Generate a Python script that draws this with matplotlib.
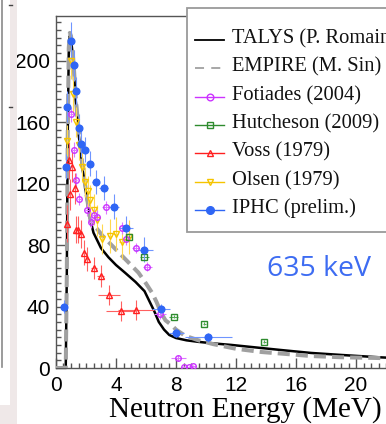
import matplotlib
matplotlib.use('Agg')
import matplotlib.pyplot as plt
from matplotlib.patches import Rectangle
from matplotlib.lines import Line2D
from matplotlib.ticker import MultipleLocator

W, H, DPI = 386, 424, 100

# ---------------- data ----------------
talys_x = [0, 0.65, 0.72, 0.78, 0.85, 0.92, 1.0, 1.1, 1.2, 1.3, 1.5, 1.75, 2.0, 2.2, 2.5, 3.0, 3.5, 4.0,
           4.6, 5.3, 5.9, 6.2, 6.55, 6.85, 7.2, 7.55, 8.0, 8.7, 9.5, 10.5, 11.7, 13.7, 15, 17, 19, 21.5, 24]
talys_y = [0, 0, 60, 150, 205, 216, 214, 205, 192, 176, 153, 131, 114, 100, 88, 78, 72, 67,
           62, 56, 50, 44, 37, 30, 25, 21.5, 19.5, 18, 17, 16, 15, 13, 11.7, 9.8, 8.5, 7, 5.8]

empire_x = [0, 0.65, 0.72, 0.78, 0.85, 0.92, 1.0, 1.1, 1.2, 1.3, 1.5, 1.75, 2.0, 2.3, 2.7, 3.1, 3.5, 4.0,
            4.5, 4.9, 5.5, 6.0, 6.4, 6.7, 7.0, 7.3, 7.7, 8.0, 8.6, 9.5, 10.5, 12, 13.7, 15.5, 17, 19, 21.5, 24]
empire_y = [0, 0, 60, 150, 208, 218, 216, 207, 194, 178, 155, 133, 115, 96, 91, 86, 82, 77,
            72, 68, 62, 55, 49, 43, 36, 31, 28, 25, 21, 18, 15.5, 12.5, 10.4, 9, 7.8, 7, 6.5, 5.5]

fot_x = [1.03, 1.2, 1.31, 1.55, 2.05, 2.33, 2.53, 2.76, 3.3, 4.42, 4.64, 5.31, 6.09, 6.9, 8.16, 8.53, 8.85, 9.15]
fot_y = [165, 142, 122, 110, 103, 95, 99.5, 98.5, 104.5, 91, 84, 78, 66, 35, 6.5, 0.5, 0.5, 1]
fot_yerr = [5, 5, 5, 4, 4, 4, 4, 4, 4, 4, 4, 3, 3, 3, 2, 1, 1, 1]
fot_xerr = [0.1, 0.1, 0.1, 0.1, 0.15, 0.15, 0.15, 0.15, 0.2, 0.2, 0.2, 0.25, 0.3, 0.4, 0.5, 0.2, 0.2, 0.2]

hut_x = [4.87, 5.87, 7.85, 9.87, 13.87]
hut_y = [85.5, 72, 33.4, 28.8, 17.1]
hut_yerr = [1, 1, 1, 1, 1]
hut_xerr = [0.2, 0.3, 0.3, 0.1, 0.1]

voss_x = [0.76, 0.87, 0.91, 1.09, 1.24, 1.36, 1.47, 1.64, 1.87, 2.09, 2.53, 2.98, 3.53, 4.31, 5.35]
voss_y = [94, 135, 113, 131, 117, 90, 90, 87, 75, 71, 65, 60, 47.5, 37, 37.7]
voss_yerr = [12, 12, 10, 10, 10, 9, 9, 9, 8, 8, 7, 7, 6.5, 6.5, 6.5]
voss_xerr = [0.05, 0.05, 0.05, 0.05, 0.05, 0.05, 0.1, 0.1, 0.1, 0.1, 0.2, 0.25, 0.75, 0.95, 1.2]

ols_x = [0.76, 1.0, 1.13, 1.3, 1.5, 1.76, 1.93, 2.1, 2.25, 2.5, 2.75, 3.09, 3.6, 3.98, 4.42, 4.87]
ols_y = [148, 200, 178, 160, 145, 131, 121, 115, 109, 103, 96, 84, 86, 87, 82, 85]
ols_yerr = [10, 12, 12, 10, 10, 10, 10, 10, 10, 10, 10, 10, 11, 11, 11, 11]
ols_xerr = [0.05, 0.05, 0.05, 0.05, 0.05, 0.1, 0.1, 0.1, 0.1, 0.1, 0.1, 0.1, 0.15, 0.15, 0.2, 0.2]

iphc_x = [0.53, 0.64, 0.71, 1.02, 1.22, 1.35, 1.53, 1.66, 1.93, 2.25, 2.64, 3.18, 3.85, 4.66, 5.87, 7.0, 8.02, 10.15]
iphc_y = [40, 131, 170, 213, 197, 180, 156, 146, 142, 133, 121, 117, 105, 91, 77, 38.5, 23, 20]
iphc_yerr = [4, 8, 10, 12, 10, 9, 9, 9, 8, 8, 8, 8, 8, 8, 8, 3, 3, 3]
iphc_xerr = [0.05, 0.05, 0.05, 0.08, 0.1, 0.1, 0.12, 0.15, 0.18, 0.2, 0.25, 0.3, 0.35, 0.45, 0.6, 0.6, 0.5, 1.55]

legend_labels = ['TALYS (P. Romain)', 'EMPIRE (M. Sin)', 'Fotiades (2004)', 'Hutcheson (2009)',
                 'Voss (1979)', 'Olsen (1979)', 'IPHC (prelim.)']
x_ticks = [0, 4, 8, 12, 16, 20]
y_ticks = [0, 40, 80, 120, 160, 200]
annot = '635 keV'
xlabel = 'Neutron Energy (MeV)'

# ---------------- styles ----------------
C_FOT = '#cc33ff'
C_HUT = '#2e8b2e'
C_VOSS = '#ff2020'
C_OLS = '#f5c400'
C_IPHC = '#2f66f5'

fig = plt.figure(figsize=(W / DPI, H / DPI), dpi=DPI)
fig.patch.set_facecolor('white')

ax = fig.add_axes([56 / W, (H - 368) / H, 360 / W, 352 / H])
ax.set_xlim(0, 24)
ax.set_ylim(0, 229)

ax.plot(talys_x, talys_y, color='black', lw=1.8, zorder=3)
ax.plot(empire_x, empire_y, color='#a0a0a0', lw=2.9, dashes=(3, 1.5), zorder=4)

def series(x, y, xe, ye, color, ecolor, marker, filled, ms):
    ax.errorbar(x, y, xerr=xe, yerr=ye, fmt=marker, ms=ms, mew=1.0,
                mfc=(color if filled else 'none'), mec=color, ecolor=ecolor,
                elinewidth=0.8, capsize=0, zorder=5)

series(voss_x, voss_y, voss_xerr, voss_yerr, C_VOSS, '#ff6060', '^', False, 4.3)
series(ols_x, ols_y, ols_xerr, ols_yerr, C_OLS, '#ffd84d', 'v', False, 4.3)
series(fot_x, fot_y, fot_xerr, fot_yerr, C_FOT, '#dd77ff', 'o', False, 4.0)
series(hut_x, hut_y, hut_xerr, hut_yerr, C_HUT, '#55aa55', 's', False, 4.0)
series(iphc_x, iphc_y, iphc_xerr, iphc_yerr, C_IPHC, '#6f95ff', 'o', True, 4.8)

ax.xaxis.set_major_locator(MultipleLocator(4))
ax.xaxis.set_minor_locator(MultipleLocator(0.5))
ax.yaxis.set_major_locator(MultipleLocator(40))
ax.yaxis.set_minor_locator(MultipleLocator(5))
ax.set_xticks(x_ticks)
ax.set_yticks(y_ticks)
ax.set_xticklabels([str(t) for t in x_ticks])
ax.set_yticklabels([str(t) for t in y_ticks])
ax.tick_params(which='both', direction='in', color='#555555', width=1)
ax.tick_params(which='major', length=7.2)
ax.tick_params(which='minor', length=3.6)
ax.tick_params(axis='y', which='major', pad=4.3)
ax.tick_params(axis='x', which='major', pad=5.5)
for lab in ax.get_xticklabels() + ax.get_yticklabels():
    lab.set_fontfamily('Liberation Sans')
    lab.set_fontsize(15)
for s in ['left', 'bottom', 'top', 'right']:
    ax.spines[s].set_color('#555555')
    ax.spines[s].set_linewidth(1.0)

ax.set_xlabel(xlabel, fontfamily='Liberation Serif', fontsize=21)
ax.xaxis.set_label_coords((382 - 56) / 360, (368 - 416.5) / 352)
ax.xaxis.label.set_ha('right')
ax.xaxis.label.set_va('baseline')

# ---------------- overlay (pixel coordinates) ----------------
ov = fig.add_axes([0, 0, 1, 1], zorder=10)
ov.set_xlim(0, W)
ov.set_ylim(H, 0)
ov.axis('off')
ov.patch.set_alpha(0)

# neighbouring panel remnants
ov.add_patch(Rectangle((10, 0), 7, H, color='#efe8e8', lw=0))
ov.add_patch(Rectangle((0, 405), 17, 19, color='#efe8e8', lw=0))
ov.plot([1.5, 1.5], [0, 367], color='#8a8a8a', lw=1.2)
ov.plot([9, 12], [5, 5], color='#444444', lw=1)
ov.plot([9, 12], [107, 107], color='#444444', lw=1)

# legend
ov.add_patch(Rectangle((187, 8), 230, 224, facecolor='white', edgecolor='#9a9a9a', lw=1.3))
styles = [
    dict(color='black', lw=1.3, ls='-', marker=None, mfc='none'),
    dict(color='#a0a0a0', lw=1.3, ls=(0, (5, 4)), marker=None, mfc='none'),
    dict(color=C_FOT, lw=1.0, ls='-', marker='o', mfc='none'),
    dict(color=C_HUT, lw=1.0, ls='-', marker='s', mfc='none'),
    dict(color=C_VOSS, lw=1.0, ls='-', marker='^', mfc='none'),
    dict(color=C_OLS, lw=1.0, ls='-', marker='v', mfc='none'),
    dict(color=C_IPHC, lw=1.0, ls='-', marker='o', mfc=C_IPHC),
]
for i, (lab, st) in enumerate(zip(legend_labels, styles)):
    yy = 40 + 28.3 * i
    ov.add_line(Line2D([195, 224], [yy, yy], color=st['color'], lw=st['lw'], ls=st['ls']))
    if st['marker']:
        ov.plot([209.5], [yy], marker=st['marker'], ms=4.8 if st['marker'] != 'o' or st['mfc'] == 'none' else 5.5,
                mfc=st['mfc'], mec=st['color'], mew=1.0)
    ov.text(232, yy + 3.5, lab, fontfamily='Liberation Serif', fontsize=14.8,
            ha='left', va='baseline', color='#111111')

ov.text(267, 276, annot, fontfamily='Open Sans', fontsize=20.5, color='#3d6cf2',
        ha='left', va='baseline')

fig.savefig('out.png', dpi=DPI)
